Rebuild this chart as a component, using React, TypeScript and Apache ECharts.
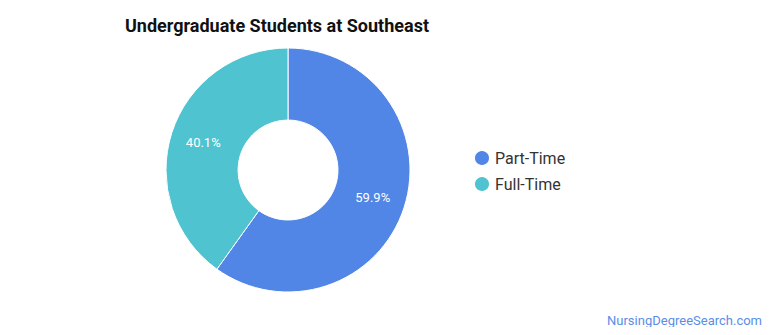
import React, { useEffect, useRef } from "react";
import * as echarts from "echarts";

const categories = ["Part-Time", "Full-Time"];
const values = [59.9, 40.1];
const colors = ["#5186E6", "#4FC3CF"];

export default function App() {
  const ref = useRef<HTMLDivElement>(null);
  useEffect(() => {
    const chart = echarts.init(ref.current!, undefined, { renderer: "svg" });
    chart.setOption({
      animation: false,
      title: {
        text: "Undergraduate Students at Southeast",
        left: 112,
        top: 3,
        textStyle: { fontFamily: "Roboto", fontSize: 18, fontWeight: "bold", color: "#111" },
      },
      legend: {
        orient: "vertical",
        left: 460,
        top: 136,
        itemWidth: 16,
        itemHeight: 16,
        itemGap: 8,
        icon: "circle",
        data: categories,
        textStyle: { fontFamily: "Roboto", fontSize: 16, color: "#333" },
      },
      graphic: [
        {
          type: "text",
          right: 0,
          bottom: 0,
          style: {
            text: "NursingDegreeSearch.com",
            fill: "#5B8EE6",
            font: "13px Roboto",
          },
        },
      ],
      series: [
        {
          type: "pie",
          center: [280, 162],
          radius: [50, 122],
          startAngle: 90,
          clockwise: true,
          color: colors,
          itemStyle: { borderColor: "#fff", borderWidth: 1 },
          label: {
            show: true,
            position: "inside",
            formatter: (p: any) => p.value.toFixed(1) + "%",
            color: "#fff",
            fontFamily: "Roboto",
            fontSize: 13,
          },
          labelLine: { show: false },
          data: categories.map((c, i) => ({ name: c, value: values[i] })),
        },
      ],
    });
    return () => chart.dispose();
  }, []);
  return <div ref={ref} style={{ width: 754, height: 319 }} />;
}
